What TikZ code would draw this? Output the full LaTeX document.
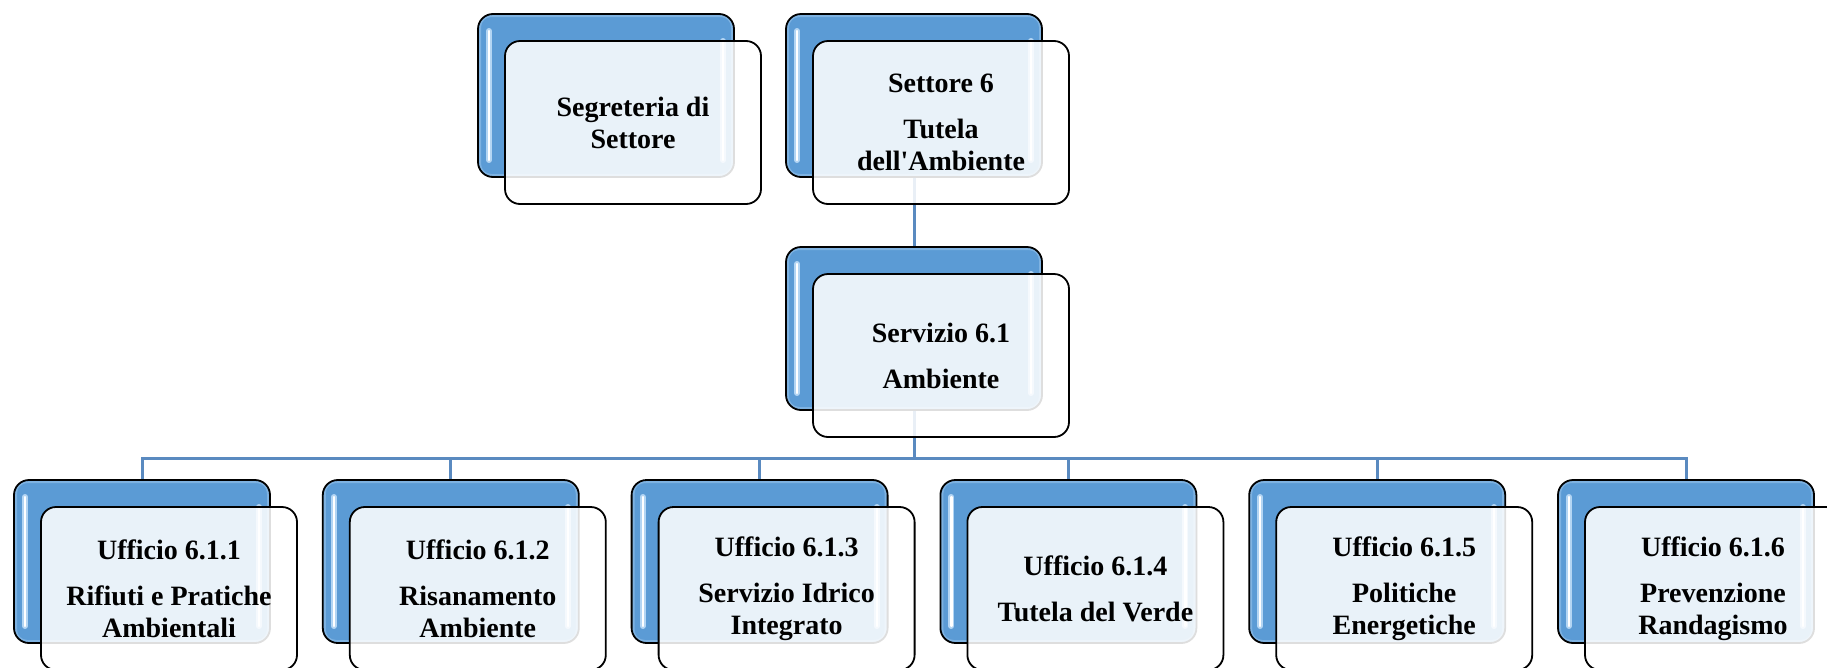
\documentclass[tikz,border=0pt]{standalone}
\usepackage{fontspec}
\setmainfont{Liberation Serif}
\usetikzlibrary{backgrounds}
\definecolor{boxblue}{HTML}{5B9BD5}
\definecolor{rimblue}{HTML}{9CC6EC}
\definecolor{glow}{HTML}{C9E4FB}
\definecolor{connblue}{HTML}{5A8AC0}
\tikzset{
  backbox/.style={draw=black, line width=1.8pt, fill=boxblue, rounded corners=15pt,
    minimum width=256pt, minimum height=163pt, inner sep=0pt,
    path picture={
      \draw[rimblue, line width=6pt, opacity=.55, rounded corners=13pt]
        (path picture bounding box.north west) rectangle (path picture bounding box.south east);
      \draw[glow, line width=6pt, line cap=round, opacity=.8]
        ([xshift=11pt,yshift=-17pt]path picture bounding box.north west) --
        ([xshift=11pt,yshift=17pt]path picture bounding box.south west);
      \draw[white, line width=2.2pt, line cap=round]
        ([xshift=11pt,yshift=-17pt]path picture bounding box.north west) --
        ([xshift=11pt,yshift=17pt]path picture bounding box.south west);
      \draw[glow, line width=6pt, line cap=round, opacity=.8]
        ([xshift=-11pt,yshift=-27pt]path picture bounding box.north east) --
        ([xshift=-11pt,yshift=17pt]path picture bounding box.south east);
      \draw[white, line width=2.2pt, line cap=round]
        ([xshift=-11pt,yshift=-27pt]path picture bounding box.north east) --
        ([xshift=-11pt,yshift=17pt]path picture bounding box.south east);
    }},
  frontbox/.style={draw=black, line width=1.8pt, fill=white, fill opacity=0.87,
    text opacity=1, rounded corners=15pt,
    minimum width=256pt, minimum height=163pt, inner sep=0pt, align=center,
    font=\fontsize{28}{32}\selectfont\bfseries},
  conn/.style={connblue, line width=3pt}
}
\newcommand{\pgap}{\\[14pt]}
\begin{document}
\begin{tikzpicture}[x=1pt,y=-1pt]
\useasboundingbox (0,0) rectangle (1827,667);
\clip (0,0) rectangle (1827,667);
% back boxes
\node[backbox] (segb) at (606,95.5) {};
\node[backbox] (setb) at (914,95.5) {};
\node[backbox] (serb) at (914,328.5) {};
\node[backbox] (u1b) at (142,561.5) {};
\node[backbox] (u2b) at (450.8,561.5) {};
\node[backbox] (u3b) at (759.6,561.5) {};
\node[backbox] (u4b) at (1068.4,561.5) {};
\node[backbox] (u5b) at (1377.2,561.5) {};
\node[backbox] (u6b) at (1686,561.5) {};
% connectors behind boxes
\begin{scope}[on background layer]
\coordinate (bus) at (914,458);
\draw[conn] (setb.south) -- (serb.north);
\draw[conn] (serb.south) -- (bus);
\foreach \u in {u1b,u2b,u3b,u4b,u5b,u6b}{\draw[conn] (bus) -| (\u.north);}
\end{scope}
% front boxes
\node[frontbox] (segf) at ([shift={(27,27)}]segb.center) {Segreteria di\\Settore};
\node[frontbox] (setf) at ([shift={(27,27)}]setb.center) {Settore 6\pgap Tutela\\dell\textquotesingle Ambiente};
\node[frontbox] (serf) at ([shift={(27,27)}]serb.center) {Servizio 6.1\pgap Ambiente};
\node[frontbox] (u1f) at ([shift={(27,27)}]u1b.center) {Ufficio 6.1.1\pgap Rifiuti e Pratiche\\Ambientali};
\node[frontbox] (u2f) at ([shift={(27,27)}]u2b.center) {Ufficio 6.1.2\pgap Risanamento\\Ambiente};
\node[frontbox] (u3f) at ([shift={(27,27)}]u3b.center) {Ufficio 6.1.3\pgap Servizio Idrico\\Integrato};
\node[frontbox] (u4f) at ([shift={(27,27)}]u4b.center) {Ufficio 6.1.4\pgap Tutela del Verde};
\node[frontbox] (u5f) at ([shift={(27,27)}]u5b.center) {Ufficio 6.1.5\pgap Politiche\\Energetiche};
\node[frontbox] (u6f) at ([shift={(27,27)}]u6b.center) {Ufficio 6.1.6\pgap Prevenzione\\Randagismo};
\end{tikzpicture}
\end{document}
